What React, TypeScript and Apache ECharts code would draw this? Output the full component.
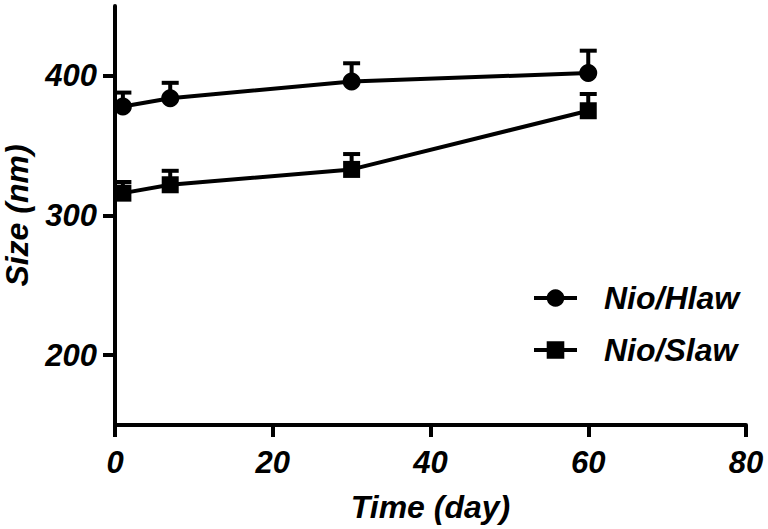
import React, { useEffect, useRef } from "react";
import * as echarts from "echarts";

const days = [1, 7, 30, 60];
const hlawSize = [378, 384, 396, 402];
const hlawErr = [10, 11, 13, 16];
const slawSize = [316, 322, 333, 375];
const slawErr = [8, 10, 11, 12];
const xTicks = [0, 20, 40, 60, 80];
const yTicks = [200, 300, 400];

const FONT = "'Liberation Sans', Arial, sans-serif";

export default function App() {
  const ref = useRef<HTMLDivElement>(null);
  useEffect(() => {
    if (!ref.current) return;
    const chart = echarts.init(ref.current, null, { renderer: "svg" });
    const txt = { fontFamily: FONT, fontWeight: "bold" as const, fontStyle: "italic" as const, color: "#000", fontSize: 32 };
    const errRender = (params: any, api: any) => {
      const x = api.value(0);
      const y = api.value(1);
      const e = api.value(2);
      const p0 = api.coord([x, y]);
      const p1 = api.coord([x, y + e]);
      const st = { stroke: "#000", lineWidth: 4 };
      return {
        type: "group",
        children: [
          { type: "line", shape: { x1: p0[0], y1: p0[1], x2: p1[0], y2: p1[1] }, style: st },
          { type: "line", shape: { x1: p1[0] - 8.5, y1: p1[1], x2: p1[0] + 8.5, y2: p1[1] }, style: st },
        ],
      };
    };
    chart.setOption({
      animation: false,
      grid: { left: 115, right: 22, top: 6, bottom: 104, outerBoundsMode: "none", containLabel: false },
      legend: {
        orient: "vertical",
        left: 527,
        top: 277,
        itemWidth: 43,
        itemHeight: 22,
        itemGap: 20,
        data: ["Nio/Hlaw", "Nio/Slaw"],
        lineStyle: { width: 4, color: "#000" },
        textStyle: { ...txt, padding: [0, 0, 0, 22], lineHeight: 32 },
      },
      xAxis: {
        type: "value",
        min: 0,
        max: 80,
        interval: 20,
        name: "Time (day)",
        nameLocation: "middle",
        nameGap: 66,
        nameTextStyle: txt,
        axisLine: { lineStyle: { color: "#000", width: 4 } },
        axisTick: { length: 12, lineStyle: { color: "#000", width: 4 } },
        axisLabel: { ...txt, fontSize: 31, margin: 22, customValues: xTicks },
        splitLine: { show: false },
      },
      yAxis: {
        type: "value",
        min: 150,
        max: 450,
        name: "Size (nm)",
        nameLocation: "middle",
        nameGap: 82,
        nameTextStyle: txt,
        axisLine: { lineStyle: { color: "#000", width: 4 } },
        axisTick: { length: 12, lineStyle: { color: "#000", width: 4 }, customValues: yTicks },
        axisLabel: { ...txt, fontSize: 31, margin: 18, customValues: yTicks },
        splitLine: { show: false },
      },
      series: [
        {
          name: "hlawErr",
          type: "custom",
          renderItem: errRender,
          encode: { x: 0, y: 1 },
          data: days.map((d, i) => [d, hlawSize[i], hlawErr[i]]),
          z: 1,
        },
        {
          name: "slawErr",
          type: "custom",
          renderItem: errRender,
          encode: { x: 0, y: 1 },
          data: days.map((d, i) => [d, slawSize[i], slawErr[i]]),
          z: 1,
        },
        {
          name: "Nio/Hlaw",
          type: "line",
          data: days.map((d, i) => [d, hlawSize[i]]),
          symbol: "circle",
          symbolSize: 18,
          itemStyle: { color: "#000" },
          lineStyle: { color: "#000", width: 4 },
          z: 3,
        },
        {
          name: "Nio/Slaw",
          type: "line",
          data: days.map((d, i) => [d, slawSize[i]]),
          symbol: "rect",
          symbolSize: 17,
          itemStyle: { color: "#000" },
          lineStyle: { color: "#000", width: 4 },
          z: 3,
        },
      ],
    });
    return () => chart.dispose();
  }, []);
  return <div ref={ref} style={{ position: "fixed", left: 0, top: 0, width: 768, height: 529, background: "#fff" }} />;
}
